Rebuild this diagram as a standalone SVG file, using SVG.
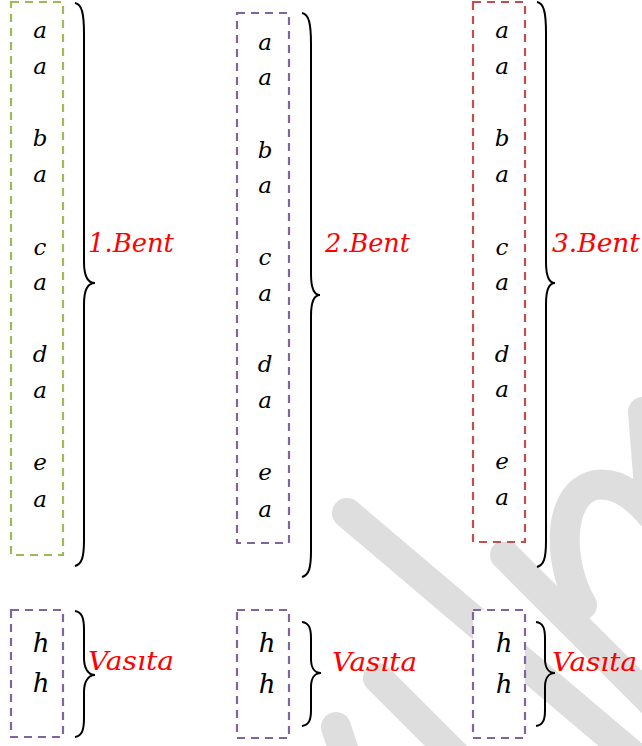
<svg xmlns="http://www.w3.org/2000/svg" width="642" height="746" viewBox="0 0 642 746">
<style>
.wm{fill:none;stroke:#dedede;stroke-width:30;stroke-linecap:round;stroke-linejoin:round}
.box{fill:#fff;stroke-width:2.2;stroke-dasharray:8 6}
.g{stroke:#9bbb59}.p{stroke:#8064a2}.r{stroke:#c0504d}
.br{fill:none;stroke:#000;stroke-width:2}
.t{font-family:"DejaVu Serif","Times New Roman",serif;font-style:italic}
.l{font-size:23px;fill:#000;text-anchor:middle}
.h{font-size:26px}
.lab{font-size:26px;fill:#ff0000}
</style>
<rect width="642" height="746" fill="#fff"/>
<g id="watermark">
<line class="wm" x1="347" y1="513" x2="650" y2="770"/>
<line class="wm" x1="378" y1="678" x2="470" y2="770"/>
<line class="wm" x1="336" y1="727" x2="350" y2="770"/>
<line class="wm" x1="505" y1="555" x2="720" y2="770"/>
<path class="wm" d="M582,605 C558,565 556,494 595,485 C620,481 640,500 660,525"/>
<line class="wm" x1="643" y1="412" x2="650" y2="500"/>
</g>
<g id="braces">
<path class="br" d="M75,3 C82,4 84,14 84,34 L84,262 C84,276 88,283 95,283 C88,283 84,290 84,304 L84,540 C84,557 82,564 75,566"/>
<path class="br" d="M302,13 C309,14 311,24 311,44 L311,274 C311,288 314,295 320,295 C314,295 311,302 311,316 L311,551 C311,568 309,575 302,577"/>
<path class="br" d="M537,2 C544,3 546,13 546,33 L546,262 C546,276 549,283 555,283 C549,283 546,290 546,304 L546,541 C546,558 544,565 537,567"/>
<path class="br" d="M75,611 C82,612 84,618 84,630 L84,658 C84,668 88,675 95,675 C88,675 84,682 84,692 L84,718 C84,730 82,736 75,737"/>
<path class="br" d="M302,622 C309,623 311,628 311,638 L311,659 C311,668 315,673 321,673 C315,673 311,678 311,687 L311,710 C311,720 309,725 302,726"/>
<path class="br" d="M536,622 C543,623 545,628 545,638 L545,659 C545,668 549,673 555,673 C549,673 545,678 545,687 L545,710 C545,720 543,725 536,726"/>
</g>
<g class="t">
<g id="bent1">
<rect class="box g" x="11" y="2" width="52" height="553"/>
<text class="l" x="40" y="38">a</text><text class="l" x="40" y="74">a</text>
<text class="l" x="40" y="146">b</text><text class="l" x="40" y="182">a</text>
<text class="l" x="40" y="255">c</text><text class="l" x="40" y="290">a</text>
<text class="l" x="40" y="362">d</text><text class="l" x="40" y="398">a</text>
<text class="l" x="40" y="470">e</text><text class="l" x="40" y="507">a</text>
<text class="lab" x="88" y="252" textLength="86" lengthAdjust="spacingAndGlyphs">1.Bent</text>
</g>
<g id="bent2">
<rect class="box p" x="237" y="13" width="52" height="530"/>
<text class="l" x="265" y="50">a</text><text class="l" x="265" y="85">a</text>
<text class="l" x="265" y="158">b</text><text class="l" x="265" y="193">a</text>
<text class="l" x="265" y="265">c</text><text class="l" x="265" y="301">a</text>
<text class="l" x="265" y="372">d</text><text class="l" x="265" y="408">a</text>
<text class="l" x="265" y="480">e</text><text class="l" x="265" y="517">a</text>
<text class="lab" x="325" y="252" textLength="85" lengthAdjust="spacingAndGlyphs">2.Bent</text>
</g>
<g id="bent3">
<rect class="box r" x="473" y="2" width="52" height="540"/>
<text class="l" x="502" y="38">a</text><text class="l" x="502" y="74">a</text>
<text class="l" x="502" y="146">b</text><text class="l" x="502" y="182">a</text>
<text class="l" x="502" y="255">c</text><text class="l" x="502" y="290">a</text>
<text class="l" x="502" y="362">d</text><text class="l" x="502" y="397">a</text>
<text class="l" x="502" y="469">e</text><text class="l" x="502" y="505">a</text>
<text class="lab" x="552" y="252" textLength="88" lengthAdjust="spacingAndGlyphs">3.Bent</text>
</g>
<g id="vasita1">
<rect class="box p" x="11" y="610" width="52" height="127"/>
<text class="l h" x="41" y="652">h</text><text class="l h" x="41" y="692">h</text>
<text class="lab" x="88" y="670" textLength="86" lengthAdjust="spacingAndGlyphs">Vasıta</text>
</g>
<g id="vasita2">
<rect class="box p" x="237" y="610" width="52" height="128"/>
<text class="l h" x="267" y="652">h</text><text class="l h" x="267" y="693">h</text>
<text class="lab" x="332" y="671" textLength="85" lengthAdjust="spacingAndGlyphs">Vasıta</text>
</g>
<g id="vasita3">
<rect class="box p" x="473" y="610" width="52" height="128"/>
<text class="l h" x="504" y="652">h</text><text class="l h" x="504" y="693">h</text>
<text class="lab" x="552" y="671" textLength="85" lengthAdjust="spacingAndGlyphs">Vasıta</text>
</g>
</g>
</svg>
